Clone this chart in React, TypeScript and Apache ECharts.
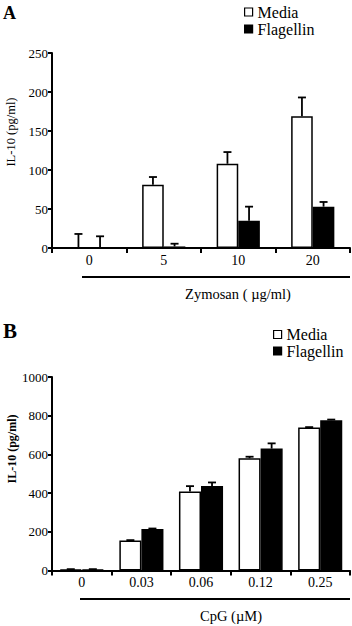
import React, { useEffect, useRef } from "react";
import * as echarts from "echarts";

const FONT = "Liberation Serif";

// Panel A
const catsA = ["0", "5", "10", "20"];
const mediaA = [0, 81, 108, 169];
const mediaErrA = [18, 10, 15, 24];
const flagA = [0, 2, 35, 53];
const flagErrA = [15, 3.5, 18, 6];

// Panel B
const catsB = ["0", "0.03", "0.06", "0.12", "0.25"];
const mediaB = [5, 155, 408, 580, 739];
const mediaErrB = [2, 2, 28, 8, 2];
const flagB = [5, 214, 437, 630, 777];
const flagErrB = [2, 3, 18, 27, 3];

const legendNames = ["Media", "Flagellin"];

function errSeries(
  name: string,
  vals: number[],
  errs: number[],
  axis: number,
  pct: number,
  side: number
) {
  return {
    type: "custom",
    name: name + "-err",
    xAxisIndex: axis,
    yAxisIndex: axis,
    z: 5,
    silent: true,
    data: vals.map((v, i) => [i, v, errs[i]]),
    encode: { x: 0, y: 1 },
    renderItem: (params: any, api: any) => {
      const i = api.value(0);
      const v = api.value(1);
      const e = api.value(2);
      const band = api.size([1, 0])[0];
      const off = (side * band * pct) / 2;
      const base = api.coord([i, v]);
      const top = api.coord([i, v + e]);
      const x = base[0] + off;
      const style = { stroke: "#000", lineWidth: 1.8 };
      return {
        type: "group",
        children: [
          { type: "line", shape: { x1: x, y1: base[1], x2: x, y2: top[1] }, style },
          { type: "line", shape: { x1: x - 4, y1: top[1], x2: x + 4, y2: top[1] }, style },
        ],
      };
    },
  };
}

function barSeries(name: string, vals: number[], axis: number, pct: number, fill: string) {
  return {
    type: "bar",
    name,
    xAxisIndex: axis,
    yAxisIndex: axis,
    data: vals,
    barWidth: pct * 100 + "%",
    barGap: "0%",
    itemStyle: { color: fill, borderColor: "#000", borderWidth: 1.5 },
    z: 2,
  };
}

export default function App() {
  const ref = useRef<HTMLDivElement>(null);
  useEffect(() => {
    if (!ref.current) return;
    const chart = echarts.init(ref.current, null, { renderer: "svg" });
    const pctA = 0.29;
    const pctB = 0.37;
    const axisLine = { show: true, lineStyle: { color: "#000", width: 2 } };
    const tick = { show: true, length: 4, lineStyle: { color: "#000", width: 2 } };
    const yLabel = {
      color: "#000",
      fontFamily: FONT,
      fontSize: 13,
      margin: 4,
      formatter: (v: number) => String(v),
    };
    const xLabel = { color: "#000", fontFamily: FONT, fontSize: 14, margin: 5 };
    const legendText = { color: "#000", fontFamily: FONT, fontSize: 16 };
    const legendItems = legendNames.map((name, k) => ({
      name,
      itemStyle: { color: k === 0 ? "#fff" : "#000", borderColor: "#000", borderWidth: 1.2 },
    }));

    chart.setOption({
      animation: false,
      backgroundColor: "#fff",
      textStyle: { fontFamily: FONT },
      grid: [
        { left: 52, top: 53, width: 298, height: 195 },
        { left: 52, top: 377, width: 298, height: 193.5 },
      ],
      legend: [
        {
          data: legendItems,
          orient: "vertical",
          left: 244,
          top: 4,
          padding: 0,
          itemWidth: 8,
          itemHeight: 8,
          itemGap: 1,
          icon: "rect",
          textStyle: legendText,
          selectedMode: false,
        },
        {
          data: legendItems,
          orient: "vertical",
          left: 273,
          top: 326.5,
          padding: 0,
          itemWidth: 8,
          itemHeight: 8,
          itemGap: 0.5,
          icon: "rect",
          textStyle: legendText,
          selectedMode: false,
        },
      ],
      xAxis: [
        {
          type: "category",
          gridIndex: 0,
          data: catsA,
          axisLine,
          axisTick: { ...tick, length: 5 },
          axisLabel: xLabel,
        },
        {
          type: "category",
          gridIndex: 1,
          data: catsB,
          axisLine,
          axisTick: { ...tick, length: 5 },
          axisLabel: xLabel,
        },
      ],
      yAxis: [
        {
          type: "value",
          gridIndex: 0,
          min: 0,
          max: 250,
          interval: 50,
          axisLine,
          axisTick: tick,
          axisLabel: yLabel,
          splitLine: { show: false },
        },
        {
          type: "value",
          gridIndex: 1,
          min: 0,
          max: 1000,
          interval: 200,
          axisLine,
          axisTick: tick,
          axisLabel: yLabel,
          splitLine: { show: false },
        },
      ],
      series: [
        barSeries("Media", mediaA, 0, pctA, "#fff"),
        barSeries("Flagellin", flagA, 0, pctA, "#000"),
        errSeries("Media", mediaA, mediaErrA, 0, pctA, -1),
        errSeries("Flagellin", flagA, flagErrA, 0, pctA, 1),
        barSeries("Media", mediaB, 1, pctB, "#fff"),
        barSeries("Flagellin", flagB, 1, pctB, "#000"),
        errSeries("Media", mediaB, mediaErrB, 1, pctB, -1),
        errSeries("Flagellin", flagB, flagErrB, 1, pctB, 1),
      ],
      graphic: [
        {
          type: "text",
          left: 3,
          top: 4,
          style: { text: "A", font: `bold 18px ${FONT}`, fill: "#000" },
        },
        {
          type: "text",
          left: 3,
          top: 320,
          style: { text: "B", font: `bold 21px ${FONT}`, fill: "#000" },
        },
        {
          type: "text",
          x: 11,
          y: 132,
          rotation: Math.PI / 2,
          style: {
            text: "IL-10 (pg/ml)",
            font: `12.5px ${FONT}`,
            fill: "#000",
            align: "center",
            verticalAlign: "middle",
          },
        },
        {
          type: "text",
          x: 12,
          y: 449,
          rotation: Math.PI / 2,
          style: {
            text: "IL-10 (pg/ml)",
            font: `bold 12px ${FONT}`,
            fill: "#000",
            align: "center",
            verticalAlign: "middle",
          },
        },
        {
          type: "line",
          shape: { x1: 82, y1: 277, x2: 350, y2: 277 },
          style: { stroke: "#000", lineWidth: 2 },
        },
        {
          type: "text",
          x: 238,
          y: 294,
          style: {
            text: "Zymosan ( µg/ml)",
            font: `14.5px ${FONT}`,
            fill: "#000",
            align: "center",
            verticalAlign: "middle",
          },
        },
        {
          type: "line",
          shape: { x1: 80, y1: 599, x2: 350, y2: 599 },
          style: { stroke: "#000", lineWidth: 2 },
        },
        {
          type: "text",
          x: 231,
          y: 616,
          style: {
            text: "CpG (µM)",
            font: `14.5px ${FONT}`,
            fill: "#000",
            align: "center",
            verticalAlign: "middle",
          },
        },
      ],
    });
    return () => chart.dispose();
  }, []);
  return (
    <div
      ref={ref}
      style={{ position: "fixed", left: 0, top: 0, width: 352, height: 626 }}
    />
  );
}
